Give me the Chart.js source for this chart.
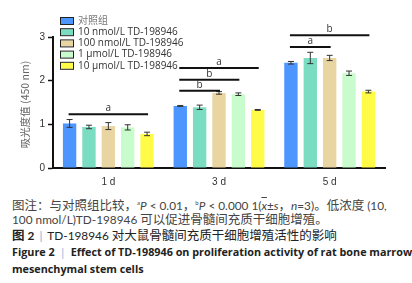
<!DOCTYPE html>
<html>
<head>
<meta charset="utf-8">
<script src="https://cdn.jsdelivr.net/npm/chart.js@4"></script>
<style>
  body { margin: 0; background: #fff; width: 412px; height: 283px; overflow: hidden; font-family: Lato, "Noto Sans CJK SC", sans-serif; }
  #wrap { position: relative; width: 412px; height: 192px; }
  .cap { position: absolute; left: 12px; font-size: 11.8px; line-height: 14px; color: #444; white-space: nowrap; }
  .cap b { color: #222; }
  .zh { font-family: "Noto Sans CJK SC", sans-serif; font-size: 12.5px; }
  .en { font-family: "Open Sans", sans-serif; font-size: 10.8px; font-weight: bold; color: #222; }
  .sep { color: #7fb0d8; margin: 0 5px; font-weight: normal; }
</style>
</head>
<body>
<div id="wrap"><canvas id="canvas"></canvas></div>
<div class="cap" style="top:196px"><span class="zh">图注：与对照组比较，</span><sup style="font-size:6px">a</sup><i>P</i> &lt; 0.01<span class="zh">，</span><sup style="font-size:6px">b</sup><i>P</i> &lt; 0.000 1(<span style="text-decoration:overline"><i>x</i></span>±<i>s</i><span class="zh">，</span><i>n</i>=3)<span class="zh">。低浓度</span> (10,</div>
<div class="cap" style="top:212px">100 nmol/L)TD-198946 <span class="zh">可以促进骨髓间充质干细胞增殖。</span></div>
<div class="cap" style="top:228px;color:#222"><b class="zh" style="font-weight:bold">图</b> <b>2</b><span class="sep">|</span>TD-198946 <span class="zh">对大鼠骨髓间充质干细胞增殖活性的影响</span></div>
<div class="cap en" style="top:245px">Figure 2<span class="sep">|</span>Effect of TD-198946 on proliferation activity of rat bone marrow</div>
<div class="cap en" style="top:262px">mesenchymal stem cells</div>
<script>
// data
const days = ['1 d', '3 d', '5 d'];
const groupNames = ['对照组', '10 nmol/L TD-198946', '100 nmol/L TD-198946', '1 μmol/L TD-198946', '10 μmol/L TD-198946'];
const groupColors = ['#4d96ff', '#7adcc0', '#e9d5a2', '#c8fccc', '#fffb47'];
const control   = [1.02, 1.42, 2.41];
const nmol10    = [0.94, 1.39, 2.52];
const nmol100   = [0.96, 1.72, 2.52];
const umol1     = [0.93, 1.69, 2.17];
const umol10    = [0.78, 1.33, 1.75];
const errControl = [0.09, 0.01, 0.03];
const errNmol10  = [0.04, 0.05, 0.13];
const errNmol100 = [0.08, 0.03, 0.06];
const errUmol1   = [0.06, 0.03, 0.05];
const errUmol10  = [0.04, 0.01, 0.03];
const yTicks = [0, 1, 2, 3];
const yTitle = '吸光度值 (450 nm)';
// significance brackets: day index, from bar, to bar, height, letter
const sigDay   = [0, 1, 1, 1, 2, 2];
const sigFrom  = [0, 0, 0, 0, 0, 0];
const sigTo    = [4, 4, 3, 2, 4, 2];
const sigY     = [1.23, 2.29, 2.02, 1.77, 3.04, 2.77];
const sigLabel = ['a', 'a', 'b', 'b', 'b', 'a'];

const values = [control, nmol10, nmol100, umol1, umol10];
const errors = [errControl, errNmol10, errNmol100, errUmol1, errUmol10];

const errorBars = {
  id: 'errorBars',
  afterDatasetsDraw(chart) {
    const ctx = chart.ctx, y = chart.scales.y;
    ctx.save();
    ctx.strokeStyle = '#333';
    ctx.lineWidth = 1;
    chart.data.datasets.forEach((ds, i) => {
      chart.getDatasetMeta(i).data.forEach((bar, j) => {
        const e = errors[i][j];
        const top = y.getPixelForValue(ds.data[j] + e);
        const bot = y.getPixelForValue(ds.data[j] - e);
        ctx.beginPath();
        ctx.moveTo(bar.x, top); ctx.lineTo(bar.x, bot);
        ctx.moveTo(bar.x - 3, top); ctx.lineTo(bar.x + 3, top);
        ctx.moveTo(bar.x - 3, bot); ctx.lineTo(bar.x + 3, bot);
        ctx.stroke();
      });
    });
    ctx.restore();
  }
};

const brackets = {
  id: 'brackets',
  afterDatasetsDraw(chart) {
    const ctx = chart.ctx, y = chart.scales.y;
    ctx.save();
    ctx.strokeStyle = '#111';
    ctx.lineWidth = 2;
    ctx.fillStyle = '#333';
    ctx.font = '10px "Open Sans", sans-serif';
    ctx.textAlign = 'center';
    ctx.textBaseline = 'bottom';
    sigY.forEach((v, k) => {
      const a = chart.getDatasetMeta(sigFrom[k]).data[sigDay[k]];
      const b = chart.getDatasetMeta(sigTo[k]).data[sigDay[k]];
      const py = y.getPixelForValue(v);
      ctx.beginPath();
      ctx.moveTo(a.x - 1, py); ctx.lineTo(b.x + 1, py);
      ctx.stroke();
      ctx.fillText(sigLabel[k], (a.x + b.x) / 2, py - 1);
    });
    ctx.restore();
  }
};

const boxLegend = {
  id: 'boxLegend',
  afterDraw(chart) {
    const ctx = chart.ctx;
    ctx.save();
    ctx.font = '10px "Open Sans", "Noto Sans CJK SC", sans-serif';
    ctx.textBaseline = 'middle';
    chart.data.datasets.forEach((ds, i) => {
      const cy = 21 + i * 11.2;
      ctx.fillStyle = ds.backgroundColor;
      ctx.fillRect(60, cy - 3, 13, 6);
      ctx.strokeStyle = '#222';
      ctx.lineWidth = 1;
      ctx.strokeRect(60.5, cy - 3.5, 13, 7);
      ctx.fillStyle = i === 0 ? '#777' : '#333';
      ctx.fillText(ds.label, 78, cy);
    });
    // y axis title
    const area = chart.chartArea;
    ctx.translate(25, (area.top + area.bottom) / 2 + 2);
    ctx.rotate(-Math.PI / 2);
    ctx.textAlign = 'center';
    ctx.fillStyle = '#666';
    ctx.font = '10.5px "Noto Sans CJK SC", sans-serif';
    ctx.fillText(yTitle, 0, 0);
    ctx.restore();
  }
};

new Chart(document.getElementById('canvas'), {
  type: 'bar',
  data: {
    labels: days,
    datasets: groupNames.map((name, i) => ({
      label: name,
      data: values[i],
      backgroundColor: groupColors[i],
      borderWidth: 0
    }))
  },
  options: {
    responsive: true,
    maintainAspectRatio: false,
    animation: false,
    categoryPercentage: 0.875,
    barPercentage: 0.69,
    layout: { padding: { top: 37, right: 27, left: 0, bottom: 0 } },
    plugins: { legend: { display: false }, tooltip: { enabled: false } },
    scales: {
      x: {
        grid: { display: false, drawOnChartArea: false, drawTicks: true, tickLength: 5, tickWidth: 2, tickColor: '#111' },
        border: { color: '#111', width: 2 },
        ticks: { color: '#333', font: { size: 10 }, padding: 3 },
        afterFit(s) { s.height = 24; }
      },
      y: {
        min: 0, max: 3,
        afterBuildTicks(s) { s.ticks = yTicks.map(v => ({ value: v })); },
        grid: { display: true, drawOnChartArea: false, tickLength: 5, tickWidth: 1.5, tickColor: '#111' },
        border: { color: '#111', width: 2 },
        ticks: { color: '#333', font: { size: 10 }, padding: 3 },
        afterFit(s) { s.width = 53; }
      }
    }
  },
  plugins: [errorBars, brackets, boxLegend]
});
</script>
</body>
</html>
